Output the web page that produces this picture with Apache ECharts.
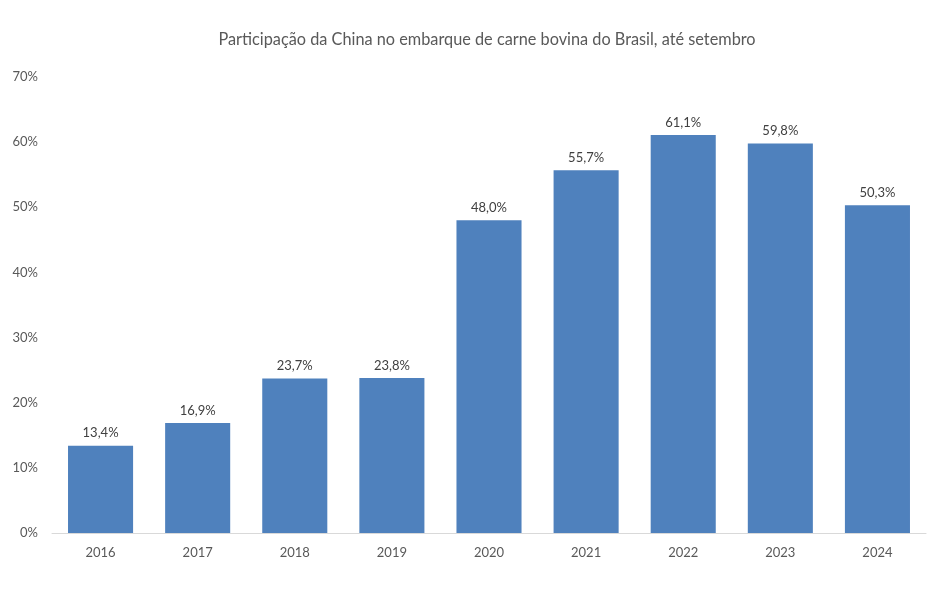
<!DOCTYPE html>
<html><head><meta charset="utf-8">
<script src="https://cdn.jsdelivr.net/npm/echarts@6/dist/echarts.min.js"></script>
<style>html,body{margin:0;padding:0;background:#fff}#c{width:948px;height:589px}</style>
</head><body><div id="c"></div>
<script>
const categories = ['2016','2017','2018','2019','2020','2021','2022','2023','2024'];
const shares = [13.4, 16.9, 23.7, 23.8, 48.0, 55.7, 61.1, 59.8, 50.3];
const titleText = 'Participação da China no embarque de carne bovina do Brasil, até setembro';
const font = 'Lato, "Open Sans", sans-serif';
const chart = echarts.init(document.getElementById('c'));
chart.setOption({
  animation: false,
  title: { text: titleText, left: 'center', top: 27, left: 482, textAlign: 'center',
    textStyle: { fontFamily: font, fontSize: 16.3, fontWeight: 'normal', color: '#595959' } },
  grid: { left: 52, right: 22, top: 77, bottom: 56 },
  xAxis: { type: 'category', data: categories,
    axisLine: { lineStyle: { color: '#d9d9d9', width: 1 } },
    axisTick: { show: false },
    axisLabel: { fontFamily: font, fontSize: 13, color: '#595959', margin: 13 } },
  yAxis: { type: 'value', min: 0, max: 70, interval: 10,
    splitLine: { show: false }, axisLine: { show: false }, axisTick: { show: false },
    axisLabel: { fontFamily: font, fontSize: 13, color: '#595959', margin: 14, formatter: '{value}%' } },
  series: [{ type: 'bar', data: shares, barWidth: '67%',
    itemStyle: { color: '#4f81bd' },
    label: { show: true, position: 'top', distance: 6, fontFamily: font, fontSize: 13, color: '#404040',
      formatter: p => p.value.toFixed(1).replace('.', ',') + '%' } }]
});
</script></body></html>
